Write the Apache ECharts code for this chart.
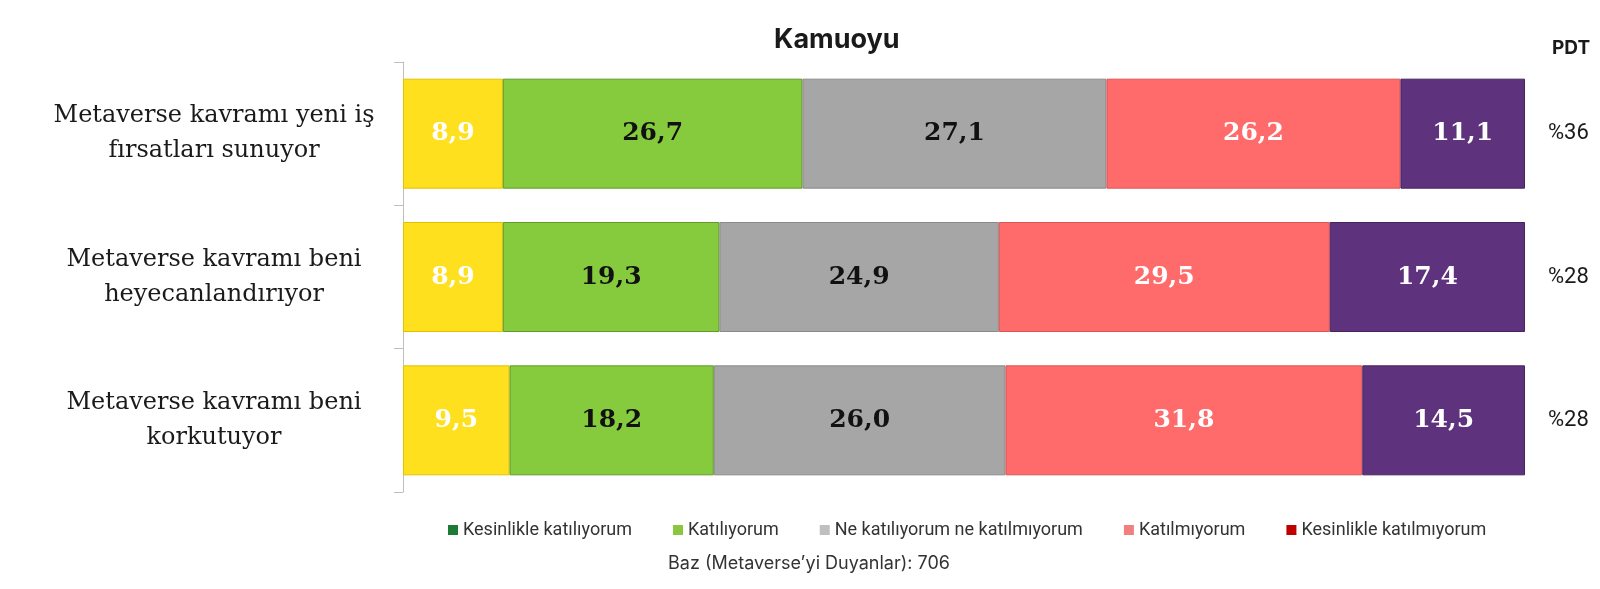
<!DOCTYPE html>
<html>
<head>
<meta charset="utf-8">
<script src="https://cdn.jsdelivr.net/npm/echarts@6/dist/echarts.min.js"></script>
<style>html,body{margin:0;padding:0;background:#fff;}#c{width:1600px;height:589px;}</style>
</head>
<body>
<div id="c"></div>
<script>
const categories = ['Metaverse kavramı yeni iş\nfırsatları sunuyor', 'Metaverse kavramı beni\nheyecanlandırıyor', 'Metaverse kavramı beni\nkorkutuyor'];
const seriesNames = ['Kesinlikle katılıyorum', 'Katılıyorum', 'Ne katılıyorum ne katılmıyorum', 'Katılmıyorum', 'Kesinlikle katılmıyorum'];
const kesinlikleKatiliyorum = [8.9, 8.9, 9.5];
const katiliyorum = [26.7, 19.3, 18.2];
const neNe = [27.1, 24.9, 26.0];
const katilmiyorum = [26.2, 29.5, 31.8];
const kesinlikleKatilmiyorum = [11.1, 17.4, 14.5];
const pdtLabels = ['%36', '%28', '%28'];

const barColors = ['#FFE01E', '#86CB3D', '#A6A6A6', '#FF6B6B', '#5E327D'];
const borderColors = ['#E0C200', '#5F9A2A', '#8A8A8A', '#D85656', '#46225F'];
const labelColors = ['#ffffff', '#111111', '#111111', '#ffffff', '#ffffff'];
const legendColors = ['#1E7B34', '#8CC63F', '#BFBFBF', '#F08080', '#C00000'];
const allData = [kesinlikleKatiliyorum, katiliyorum, neNe, katilmiyorum, kesinlikleKatilmiyorum];

const chart = echarts.init(document.getElementById('c'));
chart.setOption({
  animation: false,
  backgroundColor: '#ffffff',
  title: [
    { text: 'Kamuoyu', left: 769, top: 21, textStyle: { fontFamily: 'Inter', fontWeight: 'bold', fontSize: 27, color: '#1a1a1a' } },
    { text: 'PDT', left: 1547, top: 34, textStyle: { fontFamily: 'Inter', fontWeight: 'bold', fontSize: 19, color: '#1a1a1a' } },
    { text: 'Baz (Metaverse’yi Duyanlar): 706', left: 663, top: 550, textStyle: { fontFamily: 'Inter', fontWeight: 'normal', fontSize: 18, color: '#333333' } }
  ],
  legend: {
    left: 443, top: 516,
    itemWidth: 10, itemHeight: 10, itemGap: 41,
    icon: 'rect',
    itemStyle: { borderWidth: 0 },
    textStyle: { fontFamily: 'Roboto', fontSize: 18, color: '#333333', padding: [0, 0, 0, 0] },
    data: seriesNames.map((n, i) => ({ name: n, itemStyle: { color: legendColors[i], borderWidth: 0 } }))
  },
  grid: { left: 403, right: 75, top: 62, bottom: 97, containLabel: false },
  xAxis: { type: 'value', min: 0, max: 100, show: false },
  yAxis: [
    {
      type: 'category', data: categories, inverse: true,
      axisLine: { show: true, lineStyle: { color: '#BFBFBF', width: 1 } },
      axisTick: { show: true, length: 9, lineStyle: { color: '#BFBFBF' } },
      axisLabel: { margin: 189, align: 'center', fontFamily: 'DejaVu Serif', fontSize: 24, lineHeight: 35, color: '#1a1a1a' }
    },
    {
      type: 'category', data: pdtLabels, inverse: true, position: 'right',
      axisLine: { show: false }, axisTick: { show: false },
      axisLabel: { margin: 23, align: 'left', fontFamily: 'Roboto', fontSize: 22, color: '#1a1a1a' }
    }
  ],
  series: seriesNames.map((n, i) => ({
    name: n, type: 'bar', stack: 'total', barWidth: 110, yAxisIndex: 0,
    data: allData[i],
    itemStyle: { color: barColors[i], borderColor: borderColors[i], borderWidth: 1 },
    label: {
      show: true, position: 'inside',
      formatter: p => p.value.toFixed(1).replace('.', ','),
      fontFamily: 'DejaVu Serif', fontWeight: 'bold', fontSize: 25, color: labelColors[i]
    }
  }))
});
</script>
</body>
</html>
